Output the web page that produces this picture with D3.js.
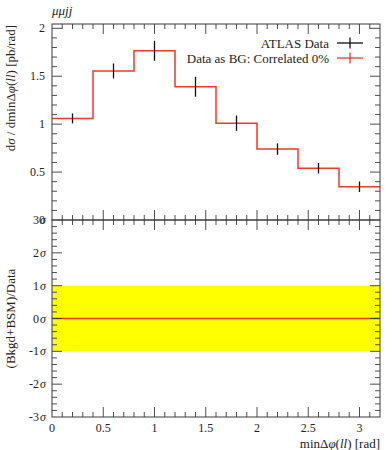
<!DOCTYPE html>
<html>
<head>
<meta charset="utf-8">
<script src="https://cdn.jsdelivr.net/npm/d3@7/dist/d3.min.js"></script>
<style>
  html, body { margin: 0; padding: 0; background: #fff; }
  svg { display: block; }
  text { font-family: "Liberation Serif", "DejaVu Serif", serif; fill: #222; }
</style>
</head>
<body>
<svg id="chart" width="392" height="450"></svg>
<script>
// ---- data ----
const binEdges = [0, 0.4, 0.8, 1.2, 1.6, 2.0, 2.4, 2.8, 3.2];
const dataValues = [1.06, 1.555, 1.765, 1.39, 1.01, 0.74, 0.54, 0.347];
const dataErrors = [0.052, 0.078, 0.104, 0.104, 0.08, 0.06, 0.055, 0.055];
const mcValues = [1.06, 1.555, 1.765, 1.39, 1.01, 0.74, 0.54, 0.347];
const ratioValues = [0, 0, 0, 0, 0, 0, 0, 0];
const ratioBand = [-1, 1];
const xTicks = [0, 0.5, 1, 1.5, 2, 2.5, 3];
const yTicksMain = [0, 0.5, 1, 1.5, 2];
const yTicksRatio = [-3, -2, -1, 0, 1, 2, 3];
const legendLabels = ["ATLAS Data", "Data as BG: Correlated 0%"];

// ---- layout ----
const L = 52, R = 380, T = 24, MID = 220, B = 417;
const svg = d3.select("#chart");
const x = d3.scaleLinear().domain([0, 3.2]).range([L, R]);
const yMain = d3.scaleLinear().domain([0, 2.045]).range([MID, T]);
const yRatio = d3.scaleLinear().domain([-3, 3]).range([B, MID]);
const axisCol = "#3a3a3a";
const red = "#ee3a24";

// ratio band
svg.append("rect")
  .attr("x", x(0)).attr("width", x(3.2) - x(0))
  .attr("y", yRatio(ratioBand[1])).attr("height", yRatio(ratioBand[0]) - yRatio(ratioBand[1]))
  .attr("fill", "#ffff00");

// histogram step line helper
function stepPath(vals, y) {
  let p = "";
  vals.forEach((v, i) => {
    const x0 = x(binEdges[i]), x1 = x(binEdges[i + 1]), yy = y(v);
    p += (i === 0 ? "M" + x0 + "," + yy : "L" + x0 + "," + yy) + "L" + x1 + "," + yy;
  });
  return p;
}

// main MC line
svg.append("path").attr("d", stepPath(mcValues, yMain))
  .attr("fill", "none").attr("stroke", red).attr("stroke-width", 1.5);

// data error bars
const centers = binEdges.slice(0, -1).map((e, i) => (e + binEdges[i + 1]) / 2);
svg.append("g").selectAll("line").data(dataValues).join("line")
  .attr("x1", (d, i) => x(centers[i])).attr("x2", (d, i) => x(centers[i]))
  .attr("y1", (d, i) => yMain(d + dataErrors[i])).attr("y2", (d, i) => yMain(d - dataErrors[i]))
  .attr("stroke", "#111").attr("stroke-width", 1.3);

// ratio line
svg.append("path").attr("d", stepPath(ratioValues, yRatio))
  .attr("fill", "none").attr("stroke", red).attr("stroke-width", 1.3);

// ---- axes / ticks ----
const minorX = d3.range(0, 3.2001, 0.1).map(v => +v.toFixed(2));
function isMajorX(v) { return xTicks.some(t => Math.abs(t - v) < 1e-6); }

function xTickRow(yPos, dir) {
  const g = svg.append("g");
  minorX.forEach(v => {
    if (v <= 0 || v >= 3.2) return;
    const len = isMajorX(v) ? 10 : 5;
    g.append("line").attr("x1", x(v)).attr("x2", x(v))
      .attr("y1", yPos).attr("y2", yPos + dir * len)
      .attr("stroke", axisCol).attr("stroke-width", 0.9);
  });
}
xTickRow(T, 1);
xTickRow(MID, -1);
xTickRow(MID, 1);
xTickRow(B, -1);

function yTickCol(scale, majors, minorStep, lo, hi) {
  const g = svg.append("g");
  const vals = d3.range(lo, hi + 1e-6, minorStep).map(v => +v.toFixed(3));
  vals.forEach(v => {
    const yy = scale(v);
    if (Math.abs(yy - scale.range()[0]) < 0.5 || Math.abs(yy - scale.range()[1]) < 0.5) return;
    const major = majors.some(t => Math.abs(t - v) < 1e-6);
    const len = major ? 10 : 5;
    g.append("line").attr("x1", L).attr("x2", L + len).attr("y1", yy).attr("y2", yy)
      .attr("stroke", axisCol).attr("stroke-width", 0.9);
    g.append("line").attr("x1", R).attr("x2", R - len).attr("y1", yy).attr("y2", yy)
      .attr("stroke", axisCol).attr("stroke-width", 0.9);
  });
}
yTickCol(yMain, yTicksMain, 0.1, 0, 2.0);
yTickCol(yRatio, yTicksRatio, 0.2, -3, 3);

// frames
svg.append("rect").attr("x", L).attr("y", T).attr("width", R - L).attr("height", MID - T)
  .attr("fill", "none").attr("stroke", axisCol).attr("stroke-width", 1);
svg.append("rect").attr("x", L).attr("y", MID).attr("width", R - L).attr("height", B - MID)
  .attr("fill", "none").attr("stroke", axisCol).attr("stroke-width", 1);

// tick labels
const fmt = v => (v === 0 ? "0" : d3.format("~g")(v));
svg.append("g").selectAll("text").data(yTicksMain).join("text")
  .attr("x", L - 7).attr("y", d => yMain(d) + 4)
  .attr("text-anchor", "end").attr("font-size", 12).text(fmt);

const rl = svg.append("g").selectAll("text").data(yTicksRatio).join("text")
  .attr("x", L - 6).attr("y", d => yRatio(d) + 4)
  .attr("text-anchor", "end").attr("font-size", 12);
rl.append("tspan").text(d => d);
rl.append("tspan").attr("font-style", "italic").attr("dx", 1).text("σ");

svg.append("g").selectAll("text").data(xTicks).join("text")
  .attr("x", d => x(d)).attr("y", B + 15)
  .attr("text-anchor", "middle").attr("font-size", 12).text(fmt);

// axis labels
const xl = svg.append("text").attr("x", R).attr("y", B + 31).attr("text-anchor", "end").attr("font-size", 13);
xl.append("tspan").text("minΔ");
xl.append("tspan").attr("font-style", "italic").text("φ");
xl.append("tspan").text("(");
xl.append("tspan").attr("font-style", "italic").text("ll");
xl.append("tspan").text(") [rad]");

const yl = svg.append("text").attr("transform", `translate(15,${T + 1}) rotate(-90)`)
  .attr("text-anchor", "end").attr("font-size", 13);
yl.append("tspan").text("d");
yl.append("tspan").attr("font-style", "italic").text("σ");
yl.append("tspan").text(" / dminΔ");
yl.append("tspan").attr("font-style", "italic").text("φ");
yl.append("tspan").text("(");
yl.append("tspan").attr("font-style", "italic").text("ll");
yl.append("tspan").text(") [pb/rad]");

svg.append("text").attr("transform", `translate(15,${(MID + B) / 2}) rotate(-90)`)
  .attr("text-anchor", "middle").attr("font-size", 13).text("(Bkgd+BSM)/Data");

// title
svg.append("text").attr("x", L).attr("y", 15).attr("font-size", 13)
  .attr("font-style", "italic").text("μμjj");

// legend
const legY = [43, 58];
const legG = svg.append("g");
legendLabels.forEach((lab, i) => {
  legG.append("text").attr("x", 329).attr("y", legY[i] + 4.5).attr("text-anchor", "end")
    .attr("font-size", 13).text(lab);
  const col = i === 0 ? "#111" : red;
  legG.append("line").attr("x1", 337).attr("x2", 363).attr("y1", legY[i]).attr("y2", legY[i])
    .attr("stroke", col).attr("stroke-width", 1.3);
  legG.append("line").attr("x1", 350).attr("x2", 350).attr("y1", legY[i] - 5.5).attr("y2", legY[i] + 5.5)
    .attr("stroke", col).attr("stroke-width", 1.3);
});
</script>
</body>
</html>
